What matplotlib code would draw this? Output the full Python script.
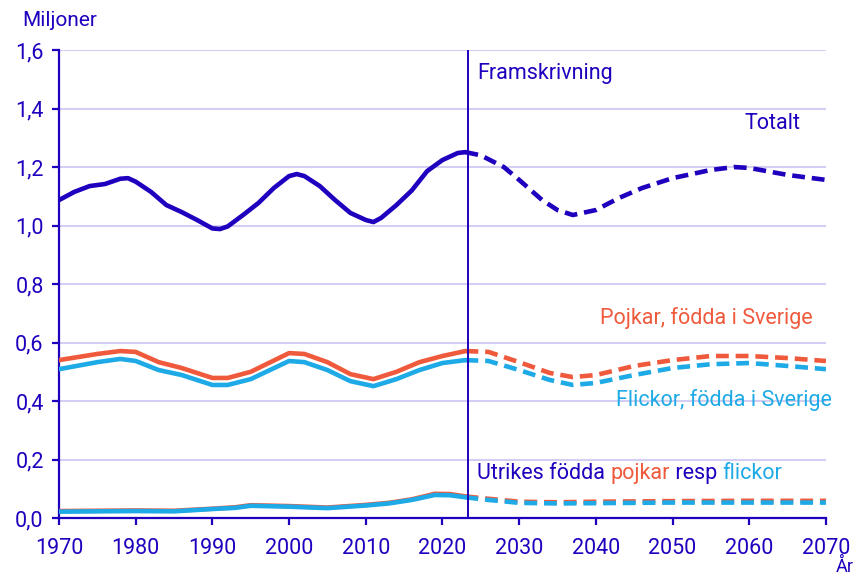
import matplotlib.pyplot as plt

plt.rcParams['font.family'] = ['Roboto', 'DejaVu Sans']

BLUE = '#1e00be'
RED = '#f05a3c'
LIGHT = '#1eaae6'
GRID = '#d2cff2'

# Totalt, historik och framskrivning
tot_years = [1970, 1972, 1974, 1976, 1978, 1979, 1980, 1982, 1984, 1986, 1988, 1990, 1991,
             1992, 1994, 1996, 1998, 2000, 2001, 2002, 2004, 2006, 2008, 2010, 2011, 2012,
             2014, 2016, 2018, 2020, 2022, 2023]
tot_vals = [1.087, 1.115, 1.135, 1.142, 1.160, 1.162, 1.150, 1.115, 1.070, 1.046, 1.019, 0.990, 0.988,
            0.997, 1.036, 1.077, 1.128, 1.169, 1.176, 1.169, 1.135, 1.087, 1.043, 1.019, 1.012, 1.026,
            1.070, 1.120, 1.186, 1.224, 1.248, 1.251]
tot_proj_years = [2023, 2025, 2028, 2030, 2033, 2035, 2037, 2040, 2043, 2046, 2050, 2055, 2058, 2060, 2065, 2070]
tot_proj_vals = [1.251, 1.240, 1.200, 1.156, 1.087, 1.053, 1.036, 1.053, 1.094, 1.128, 1.162, 1.190, 1.200, 1.197, 1.173, 1.156]

# Födda i Sverige
sv_years = [1970, 1975, 1978, 1980, 1983, 1986, 1990, 1992, 1995, 2000, 2002, 2005, 2008, 2011, 2014, 2017, 2020, 2023]
boys_sv = [0.540, 0.561, 0.571, 0.568, 0.533, 0.513, 0.479, 0.479, 0.500, 0.564, 0.561, 0.533, 0.492, 0.475, 0.500, 0.533, 0.554, 0.571]
girls_sv = [0.509, 0.533, 0.544, 0.537, 0.506, 0.489, 0.455, 0.455, 0.475, 0.537, 0.533, 0.506, 0.468, 0.451, 0.475, 0.506, 0.530, 0.540]
sv_proj_years = [2023, 2026, 2030, 2034, 2037, 2040, 2045, 2050, 2055, 2060, 2065, 2070]
boys_sv_proj = [0.571, 0.568, 0.533, 0.496, 0.482, 0.489, 0.520, 0.540, 0.554, 0.554, 0.547, 0.537]
girls_sv_proj = [0.540, 0.537, 0.506, 0.472, 0.455, 0.462, 0.489, 0.513, 0.526, 0.530, 0.520, 0.509]

# Utrikes födda
ut_years = [1970, 1980, 1985, 1990, 1993, 1995, 2000, 2005, 2010, 2013, 2016, 2019, 2021, 2023]
boys_ut = [0.024, 0.026, 0.025, 0.032, 0.037, 0.044, 0.041, 0.036, 0.045, 0.052, 0.064, 0.083, 0.082, 0.074]
girls_ut = [0.022, 0.024, 0.023, 0.031, 0.035, 0.042, 0.039, 0.034, 0.043, 0.050, 0.062, 0.079, 0.078, 0.071]
ut_proj_years = [2023, 2026, 2030, 2035, 2040, 2050, 2060, 2070]
boys_ut_proj = [0.074, 0.066, 0.056, 0.054, 0.056, 0.058, 0.059, 0.059]
girls_ut_proj = [0.071, 0.062, 0.052, 0.050, 0.051, 0.053, 0.053, 0.053]

split_year = 2023.3

fig = plt.figure(figsize=(8.55, 5.75), dpi=100)
ax = fig.add_axes([0.069, 0.099, 0.897, 0.814])

lw = 3.3
dash = (2.8, 1.5)
ax.plot(ut_years, boys_ut, color=RED, lw=lw, solid_capstyle='round', zorder=3)
ax.plot(ut_years, girls_ut, color=LIGHT, lw=lw, solid_capstyle='round', zorder=4)
ax.plot(ut_proj_years, boys_ut_proj, color=RED, lw=lw, ls=(0, dash), zorder=3)
ax.plot(ut_proj_years, girls_ut_proj, color=LIGHT, lw=lw, ls=(0, dash), zorder=4)

ax.plot(sv_years, boys_sv, color=RED, lw=lw, solid_capstyle='round', zorder=3)
ax.plot(sv_years, girls_sv, color=LIGHT, lw=lw, solid_capstyle='round', zorder=3)
ax.plot(sv_proj_years, boys_sv_proj, color=RED, lw=lw, ls=(0, dash), zorder=3)
ax.plot(sv_proj_years, girls_sv_proj, color=LIGHT, lw=lw, ls=(0, dash), zorder=3)

ax.plot(tot_years, tot_vals, color=BLUE, lw=lw, solid_capstyle='round', zorder=3)
ax.plot(tot_proj_years, tot_proj_vals, color=BLUE, lw=lw, ls=(0, dash), zorder=3)

ax.axvline(split_year, color=BLUE, lw=1.4, zorder=5)

ax.set_xlim(1970, 2070)
ax.set_ylim(0, 1.6)
ax.set_xticks(range(1970, 2071, 10))
yt = [0, 0.2, 0.4, 0.6, 0.8, 1.0, 1.2, 1.4, 1.6]
ax.set_yticks(yt)
ax.set_yticklabels([f'{v:.1f}'.replace('.', ',') for v in yt])
ax.grid(axis='y', color=GRID, lw=1.5, zorder=0)
ax.set_axisbelow(True)
for s in ['top', 'right']:
    ax.spines[s].set_visible(False)
for s in ['left', 'bottom']:
    ax.spines[s].set_color(BLUE)
    ax.spines[s].set_linewidth(1.6)
ax.tick_params(colors=BLUE, labelcolor=BLUE, labelsize=15.5, width=1.6, length=5)
ax.tick_params(axis='x', pad=9)
ax.tick_params(axis='y', pad=6)

fs = 15.5
ax.text(2024.5, 1.52, 'Framskrivning', color=BLUE, fontsize=fs, va='center', ha='left')
ax.text(2066.7, 1.35, 'Totalt', color=BLUE, fontsize=fs, va='center', ha='right')
ax.text(2068.3, 0.684, 'Pojkar, födda i Sverige', color=RED, fontsize=fs, va='center', ha='right')
ax.text(2070.8, 0.403, 'Flickor, födda i Sverige', color=LIGHT, fontsize=fs, va='center', ha='right')

# flerfärgad etikett
parts = [('Utrikes födda ', BLUE), ('pojkar', RED), (' resp ', BLUE), ('flickor', LIGHT)]
fig.canvas.draw()
r = fig.canvas.get_renderer()
x0 = 2024.5
for txt, c in parts:
    t = ax.text(x0, 0.154, txt, color=c, fontsize=fs, va='center', ha='left')
    bb = t.get_window_extent(renderer=r)
    x0 = ax.transData.inverted().transform((bb.x1, bb.y0))[0]

fig.text(22 / 855, 1 - 21 / 575, 'Miljoner', color=BLUE, fontsize=15, va='center', ha='left')
fig.text(845 / 855, 1 - 567 / 575, 'År', color=BLUE, fontsize=13, va='center', ha='center')

fig.savefig('out.png', dpi=100)
